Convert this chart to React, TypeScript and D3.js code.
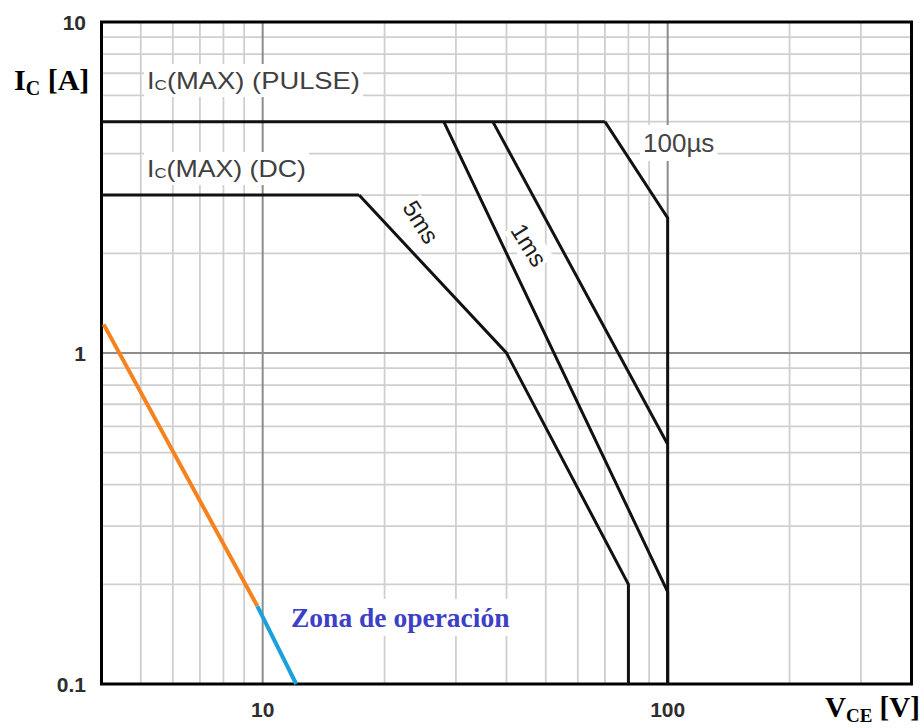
import React, { useLayoutEffect, useRef, useState } from 'react';
import * as d3 from 'd3';

const W = 922;
const H = 728;

// axis domains (log-log)
const xDomain: [number, number] = [4, 400];
const yDomain: [number, number] = [0.1, 10];

// grid lines
const xMajorGrid = [10, 100];
const xMinorGrid = [5, 6, 7, 8, 9, 20, 30, 40, 50, 60, 70, 80, 90, 200, 300];
const yMajorGrid = [1];
const yMinorGrid = [0.2, 0.3, 0.4, 0.5, 0.6, 0.7, 0.8, 0.9, 2, 3, 4, 5, 6, 7, 8, 9];

// tick labels
const xTickValues = [10, 100];
const xTickLabels = ['10', '100'];
const yTickValues = [0.1, 1, 10];
const yTickLabels = ['0.1', '1', '10'];

// SOA boundaries [V_CE, I_C]
const pulseLimit: [number, number][] = [[4, 5], [70, 5]];
const dcLimit: [number, number][] = [[4, 3], [17.3, 3]];
const soa5ms: [number, number][] = [[17.3, 3], [40, 1], [80, 0.2], [80, 0.1]];
const soa1ms: [number, number][] = [[28, 5], [100, 0.19], [100, 0.1]];
const soa1msB: [number, number][] = [[37, 5], [100, 0.53]];
const soa100us: [number, number][] = [[70, 5], [100, 2.56], [100, 0.1]];

// operating line
const lineOrange: [number, number][] = [[4.05, 1.22], [9.7, 0.172]];
const lineBlue: [number, number][] = [[9.7, 0.172], [12.1, 0.1]];

function BoxedText(props: any) {
  const { x, y, rotate = 0, pad = 3, children, ...rest } = props;
  const ref = useRef<SVGTextElement>(null);
  const [bb, setBb] = useState<any>(null);
  useLayoutEffect(() => {
    if (ref.current) {
      const b = ref.current.getBBox();
      setBb({ x: b.x, y: b.y, w: b.width, h: b.height });
    }
  }, []);
  return (
    <g transform={`translate(${x},${y}) rotate(${rotate})`}>
      {bb && (
        <rect x={bb.x - pad} y={bb.y - pad} width={bb.w + 2 * pad} height={bb.h + 2 * pad} fill="white" />
      )}
      <text ref={ref} x={0} y={0} {...rest}>
        {children}
      </text>
    </g>
  );
}

export default function App() {
  const x = d3.scaleLog().domain(xDomain).range([101.5, 911.5]);
  const y = d3.scaleLog().domain(yDomain).range([684, 22]);
  const line = d3
    .line<[number, number]>()
    .x((d) => x(d[0]))
    .y((d) => y(d[1]));

  const [x0, x1] = x.range();
  const [y0, y1] = y.range();

  const curves = [pulseLimit, dcLimit, soa5ms, soa1ms, soa1msB, soa100us];
  const sans = 'Liberation Sans, Arial, sans-serif';
  const serif = 'Liberation Serif, Times New Roman, serif';

  return (
    <svg width={W} height={H} style={{ position: 'absolute', left: 0, top: 0, background: 'white' }}>
      <rect x={0} y={0} width={W} height={H} fill="white" />
      {/* grid */}
      {xMinorGrid.map((v) => (
        <line key={'xm' + v} x1={x(v)} x2={x(v)} y1={y1} y2={y0} stroke="#cfcfcf" strokeWidth={1.8} />
      ))}
      {yMinorGrid.map((v) => (
        <line key={'ym' + v} x1={x0} x2={x1} y1={y(v)} y2={y(v)} stroke="#cfcfcf" strokeWidth={1.8} />
      ))}
      {xMajorGrid.map((v) => (
        <line key={'xM' + v} x1={x(v)} x2={x(v)} y1={y1} y2={y0} stroke="#8c8c8c" strokeWidth={2} />
      ))}
      {yMajorGrid.map((v) => (
        <line key={'yM' + v} x1={x0} x2={x1} y1={y(v)} y2={y(v)} stroke="#8c8c8c" strokeWidth={2} />
      ))}

      {/* annotations with white boxes */}
      <BoxedText x={147} y={89} fontFamily={sans} fontSize={24} fill="#404040" pad={3} textLength={213} lengthAdjust="spacingAndGlyphs">
        I<tspan fontSize={15} dy={1}>C</tspan>
        <tspan dy={-1}>(MAX) (PULSE)</tspan>
      </BoxedText>
      <BoxedText x={147} y={177} fontFamily={sans} fontSize={24} fill="#404040" pad={3} textLength={159} lengthAdjust="spacingAndGlyphs">
        I<tspan fontSize={15} dy={1}>C</tspan>
        <tspan dy={-1}>(MAX) (DC)</tspan>
      </BoxedText>
      <BoxedText x={643} y={152} fontFamily={sans} fontSize={26} fill="#454545" pad={3}>
        100µs
      </BoxedText>
      <BoxedText x={421} y={222} rotate={58} fontFamily={sans} fontSize={24} fill="#1e1e1e" pad={1} textAnchor="middle" dominantBaseline="central">
        5ms
      </BoxedText>
      <BoxedText x={529} y={245} rotate={58} fontFamily={sans} fontSize={24} fill="#1e1e1e" pad={1} textAnchor="middle" dominantBaseline="central">
        1ms
      </BoxedText>

      {/* frame */}
      <rect x={x0} y={y1} width={x1 - x0} height={y0 - y1} fill="none" stroke="#000" strokeWidth={3} />

      {/* SOA curves */}
      {curves.map((c, i) => (
        <path key={'c' + i} d={line(c) || ''} fill="none" stroke="#111" strokeWidth={3} strokeLinejoin="miter" />
      ))}

      {/* operating line */}
      <path d={line(lineOrange) || ''} fill="none" stroke="#f5821f" strokeWidth={4} />
      <path d={line(lineBlue) || ''} fill="none" stroke="#1ca0dc" strokeWidth={4} />

      <BoxedText x={291} y={627} fontFamily={serif} fontWeight="bold" fontSize={27.5} fill="#3d3fc6" pad={3}>
        Zona de operación
      </BoxedText>

      {/* tick labels */}
      {yTickValues.map((v, i) => (
        <text key={'yt' + v} x={86} y={y(v)} textAnchor="end" dominantBaseline="central" fontFamily={sans} fontWeight="bold" fontSize={21} fill="#2e2e2e">
          {yTickLabels[i]}
        </text>
      ))}
      {xTickValues.map((v, i) => (
        <text key={'xt' + v} x={x(v)} y={709} textAnchor="middle" dominantBaseline="central" fontFamily={sans} fontWeight="bold" fontSize={21} fill="#2e2e2e">
          {xTickLabels[i]}
        </text>
      ))}

      {/* axis titles */}
      <text x={14} y={90} fontFamily={serif} fontWeight="bold" fontSize={30} fill="#000">
        I<tspan fontSize={20} dy={5}>C</tspan>
        <tspan dy={-5}> [A]</tspan>
      </text>
      <text x={825} y={717} fontFamily={serif} fontWeight="bold" fontSize={29} fill="#000">
        V<tspan fontSize={19} dy={5}>CE</tspan>
        <tspan dy={-5}> [V]</tspan>
      </text>
    </svg>
  );
}
